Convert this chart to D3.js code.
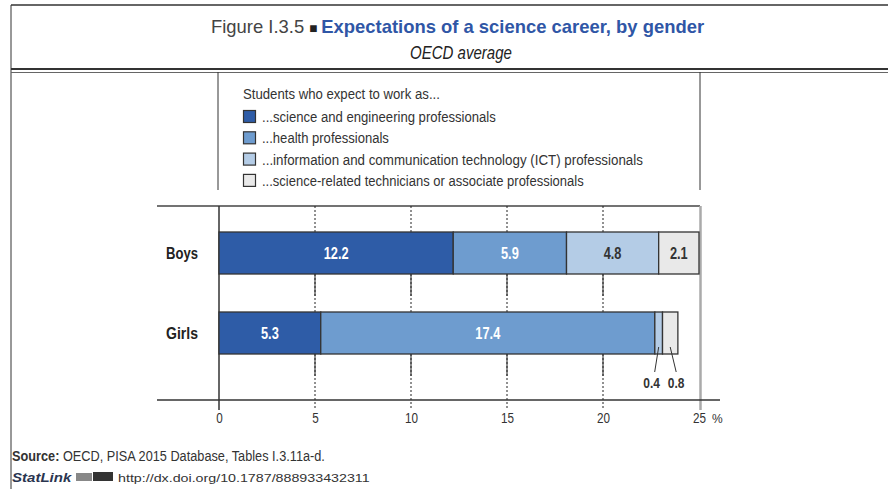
<!DOCTYPE html>
<html><head><meta charset="utf-8">
<script src="https://cdn.jsdelivr.net/npm/d3@7"></script>
<style>
body{margin:0;background:#fff;}
svg{display:block;}
text{font-family:"Liberation Sans",Arial,sans-serif;}
</style></head>
<body>
<script>
const categories = ["Boys", "Girls"];
const seriesNames = [
  "...science and engineering professionals",
  "...health professionals",
  "...information and communication technology (ICT) professionals",
  "...science-related technicians or associate professionals"
];
const scienceEng = [12.2, 5.3];
const health = [5.9, 17.4];
const ict = [4.8, 0.4];
const technicians = [2.1, 0.8];
const xTicks = [0, 5, 10, 15, 20, 25];
const colors = ["#2e5ca7", "#6e9ccf", "#b4cce6", "#e9e9e9"];
const labelColors = ["#fff", "#fff", "#333", "#333"];
const legendWidths = [234, 127, 381, 322];

const W = 888, H = 489;
const svg = d3.select("body").append("svg").attr("width", W).attr("height", H);

// helper: draw text whose horizontal extent is fitted to a target width
function fitText(left, baseline, targetW, build) {
  const g = svg.append("g");
  const t = g.append("text").attr("x", 0).attr("y", 0);
  build(t);
  const w = t.node().getBBox().width;
  g.attr("transform", `translate(${left},${baseline}) scale(${targetW / w},1)`);
  return t;
}
// helper: condensed text centered at x
function condText(parent, cx, baseline, sx, build) {
  const g = parent.append("g").attr("transform", `translate(${cx},${baseline}) scale(${sx},1)`);
  const t = g.append("text").attr("x", 0).attr("y", 0).attr("text-anchor", "middle");
  build(t);
  return t;
}

// frame
svg.append("line").attr("x1", 11).attr("x2", W).attr("y1", 5).attr("y2", 5).attr("stroke", "#333").attr("stroke-width", 1.5);
svg.append("line").attr("x1", 11).attr("x2", 11).attr("y1", 5).attr("y2", H).attr("stroke", "#333").attr("stroke-width", 1);
svg.append("line").attr("x1", 11).attr("x2", W).attr("y1", 69).attr("y2", 69).attr("stroke", "#333").attr("stroke-width", 2);
svg.append("line").attr("x1", 11).attr("x2", W).attr("y1", 72.5).attr("y2", 72.5).attr("stroke", "#666").attr("stroke-width", 1);

// title
fitText(211, 33, 494, t => {
  t.attr("font-size", 19);
  t.append("tspan").attr("fill", "#444").text("Figure I.3.5 ");
  t.append("tspan").attr("fill", "#222").attr("font-size", 14).text("\u25A0 ");
  t.append("tspan").attr("fill", "#2f56a6").attr("font-weight", "bold").text("Expectations of a science career, by gender");
});
fitText(410, 59, 102, t => t.attr("font-size", 18).attr("font-style", "italic").attr("fill", "#222").text("OECD average"));

// legend box
[218, 700].forEach(x => svg.append("line").attr("x1", x).attr("x2", x).attr("y1", 72).attr("y2", 190).attr("stroke", "#333").attr("stroke-width", 1));
fitText(243, 99, 197, t => t.attr("font-size", 15).attr("fill", "#333").text("Students who expect to work as..."));
seriesNames.forEach((n, i) => {
  const yc = 117 + i * 21.3;
  svg.append("rect").attr("x", 243.5).attr("y", yc - 6.5).attr("width", 12).attr("height", 12).attr("fill", colors[i]).attr("stroke", "#333").attr("stroke-width", 1.2);
  fitText(262, yc + 5, legendWidths[i], t => t.attr("font-size", 15).attr("fill", "#333").text(n));
});

// scales
const x = d3.scaleLinear().domain([0, 25]).range([219, 699]);
const y = d3.scaleBand().domain(categories).range([211, 375]).paddingInner(0.475).paddingOuter(0.2625);
const axisY = 400;

// top line
svg.append("line").attr("x1", 157).attr("x2", 700).attr("y1", 206).attr("y2", 206).attr("stroke", "#444").attr("stroke-width", 1.5);

// grid lines
xTicks.filter(d => d > 0 && d < 25).forEach(d => {
  svg.append("line").attr("x1", x(d)).attr("x2", x(d)).attr("y1", 206).attr("y2", axisY + 10).attr("stroke", "#222").attr("stroke-width", 1).attr("stroke-dasharray", "2,2");
  categories.forEach(c => {
    const yb = y(c) + y.bandwidth();
    svg.append("line").attr("x1", x(d)).attr("x2", x(d)).attr("y1", yb).attr("y2", yb + 22).attr("stroke", "#222").attr("stroke-width", 1);
  });
});
// zero line
svg.append("line").attr("x1", x(0)).attr("x2", x(0)).attr("y1", 206).attr("y2", axisY + 10).attr("stroke", "#333").attr("stroke-width", 1.5);
// right gray line
svg.append("line").attr("x1", 700.5).attr("x2", 700.5).attr("y1", 206).attr("y2", axisY + 10).attr("stroke", "#aaa").attr("stroke-width", 2.5);

// stacked data
const rows = categories.map((c, i) => ({cat: c, s0: scienceEng[i], s1: health[i], s2: ict[i], s3: technicians[i]}));
const keys = ["s0", "s1", "s2", "s3"];
const stacked = d3.stack().keys(keys)(rows);

stacked.forEach((layer, li) => {
  layer.forEach(seg => {
    const cat = seg.data.cat;
    const val = seg.data[keys[li]];
    const x0 = x(seg[0]), x1 = x(seg[1]);
    svg.append("rect").attr("x", x0).attr("y", y(cat)).attr("width", x1 - x0).attr("height", y.bandwidth())
      .attr("fill", colors[li]).attr("stroke", "#333").attr("stroke-width", 1.3);
    const cx = (x0 + x1) / 2;
    if (val >= 1) {
      condText(svg, cx, y(cat) + y.bandwidth() / 2 + 6, 0.8, t => t.attr("font-size", 16).attr("font-weight", "bold").attr("fill", labelColors[li]).text(val.toFixed(1)));
    } else {
      const lx = li === 2 ? cx - 4 : cx + 6;
      svg.append("line").attr("x1", cx).attr("y1", y(cat) + y.bandwidth() - 7)
        .attr("x2", lx).attr("y2", y(cat) + y.bandwidth() + 18).attr("stroke", "#333").attr("stroke-width", 1);
      condText(svg, lx - (li === 2 ? 3 : 0), y(cat) + y.bandwidth() + 34, 0.8, t => t.attr("font-size", 15).attr("font-weight", "bold").attr("fill", "#333").text(val.toFixed(1)));
    }
  });
});

// category labels
categories.forEach(c => {
  fitText(166, y(c) + y.bandwidth() / 2 + 6, 32, t => t.attr("font-size", 17).attr("font-weight", "bold").attr("fill", "#222").text(c));
});

// x axis
svg.append("line").attr("x1", 157).attr("x2", 720).attr("y1", axisY).attr("y2", axisY).attr("stroke", "#333").attr("stroke-width", 1.5);
const axis = d3.axisBottom(x).tickValues(xTicks).tickSize(0).tickPadding(0).tickFormat(d3.format("d"));
const ag = svg.append("g").attr("transform", `translate(0,${axisY})`).call(axis);
ag.select(".domain").remove();
ag.selectAll(".tick text")
  .attr("font-size", 15).attr("fill", "#333").attr("dy", null).attr("y", 0)
  .attr("transform", "translate(0,23) scale(0.78,1)");
svg.append("text").attr("x", 712).attr("y", 423).attr("font-size", 12).attr("fill", "#333").text("%");

// footer
fitText(12, 461, 313, t => {
  t.attr("font-size", 15).attr("fill", "#333");
  t.append("tspan").attr("font-weight", "bold").text("Source: ");
  t.append("tspan").text("OECD, PISA 2015 Database, Tables I.3.11a-d.");
});
fitText(12, 482, 61, t => t.attr("font-size", 12).attr("font-weight", "bold").attr("font-style", "italic").attr("fill", "#2a3550").attr("font-family", "'DejaVu Sans',sans-serif").text("StatLink"));
svg.append("rect").attr("x", 76).attr("y", 473).attr("width", 16).attr("height", 8).attr("fill", "#888");
svg.append("rect").attr("x", 93).attr("y", 472).attr("width", 20).attr("height", 9).attr("fill", "#333");
fitText(118, 482, 252, t => t.attr("font-size", 11).attr("fill", "#333").attr("font-family", "'DejaVu Sans Mono','Liberation Mono',monospace").text("http://dx.doi.org/10.1787/888933432311"));
</script>
</body></html>
